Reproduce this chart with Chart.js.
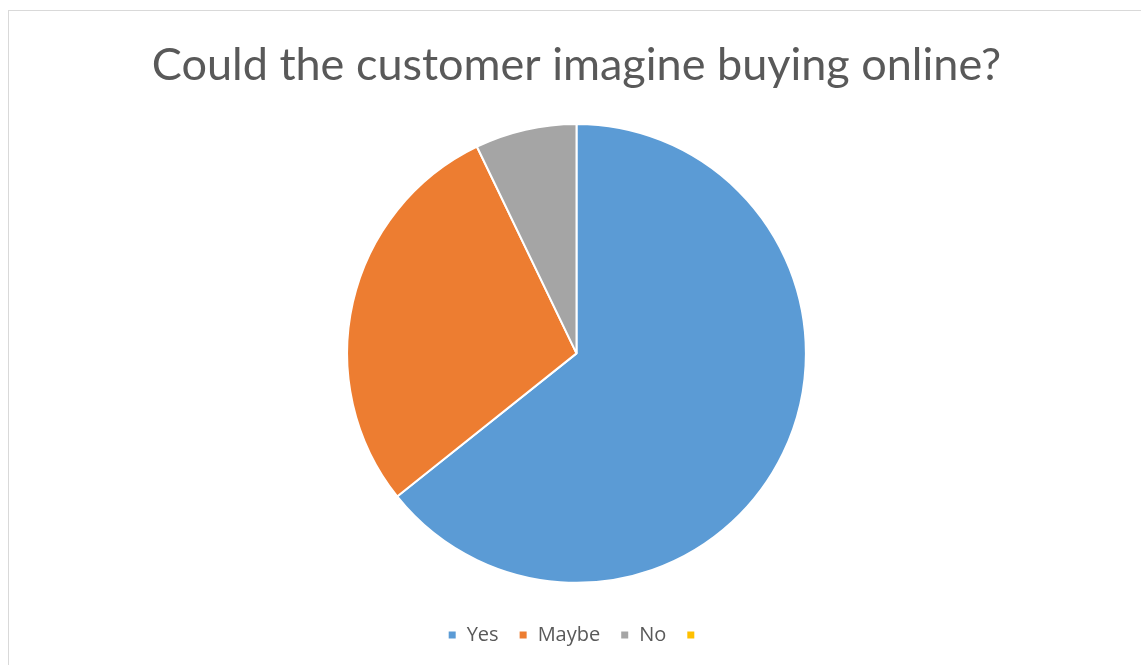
<!DOCTYPE html>
<html>
<head>
<meta charset="utf-8">
<script src="https://cdn.jsdelivr.net/npm/chart.js@4/dist/chart.umd.min.js"></script>
<style>
  html, body { margin: 0; padding: 0; background: #fff; }
  #wrap { position: relative; width: 1141px; height: 665px; overflow: hidden; }
  #frame { position: absolute; left: 8px; top: 10px; width: 1200px; height: 700px; border: 1px solid #d9d9d9; }
  #chart { position: absolute; left: 0; top: 0; }
</style>
</head>
<body>
<div id="wrap">
  <div id="frame"></div>
  <canvas id="chart" width="1141" height="665"></canvas>
</div>
<script>
const categories = ['Yes', 'Maybe', 'No', '']
const values = [9, 4, 1, 0]
const colors = ['#5B9BD5', '#ED7D31', '#A5A5A5', '#FFC000']

const ctx = document.getElementById('chart').getContext('2d')
const myChart = new Chart(ctx, {
    type: 'pie',
    data: {
        labels: categories,
        datasets: [{
            data: values,
            backgroundColor: colors,
            borderColor: '#ffffff',
            borderWidth: 2
        }]
    },
    options: {
        responsive: false,
        animation: false,
        layout: {
            padding: { left: 12, right: 0, top: 0, bottom: 10 }
        },
        plugins: {
            title: {
                display: true,
                text: 'Could the customer imagine buying online?',
                color: '#595959',
                font: { family: 'Lato', size: 45, weight: 'normal' },
                padding: { top: 38, bottom: 31 }
            },
            legend: {
                position: 'bottom',
                title: {
                    // empty title only used as spacer above the items
                    display: true,
                    text: '',
                    font: { size: 1 },
                    padding: { top: 20, bottom: 0 }
                },
                labels: {
                    color: '#595959',
                    font: { family: 'Open Sans', size: 20 },
                    boxWidth: 9,
                    boxHeight: 9,
                    padding: 20
                }
            },
            tooltip: { enabled: false }
        }
    }
})
</script>
</body>
</html>
